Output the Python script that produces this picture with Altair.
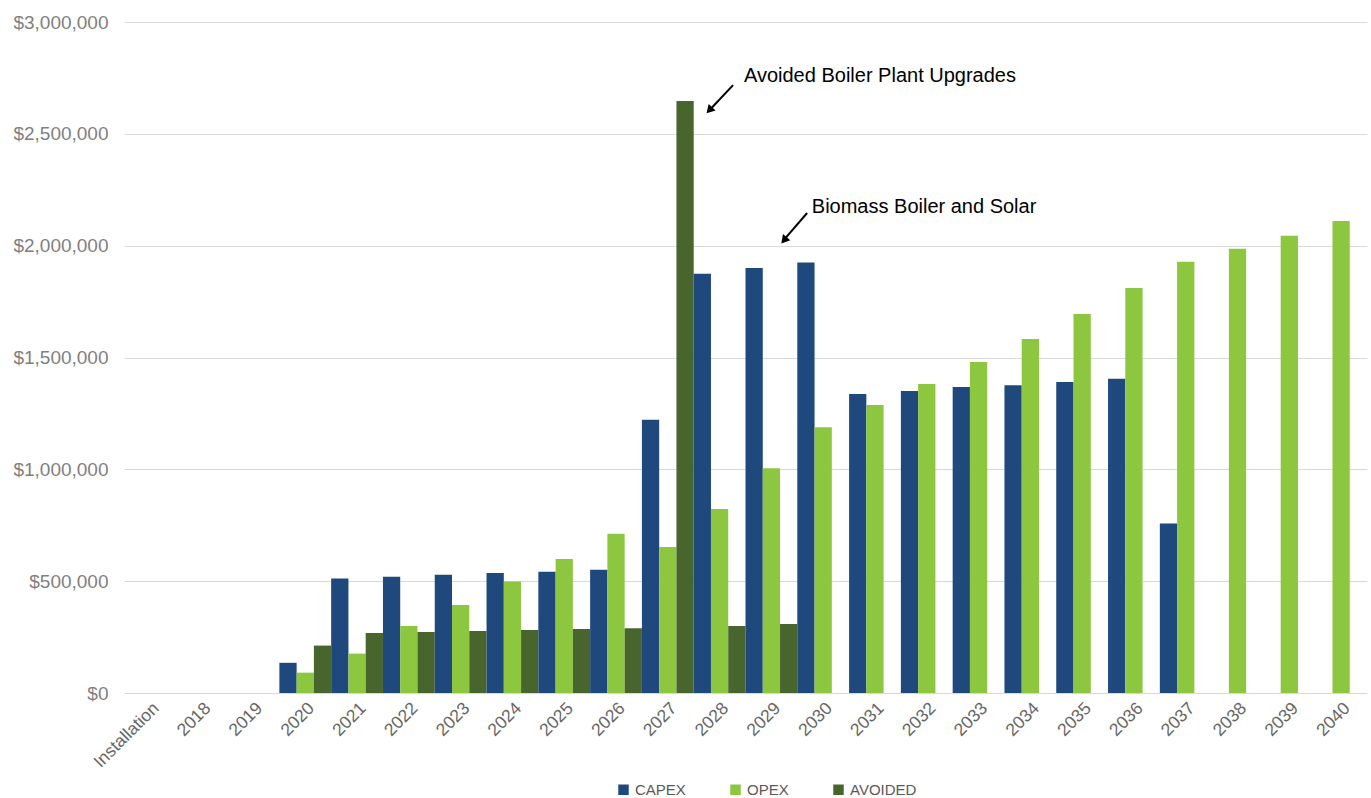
import altair as alt
import pandas as pd

categories = ["Installation"] + [str(y) for y in range(2018, 2041)]
series = ["CAPEX", "OPEX", "AVOIDED"]
colors = ["#1F497D", "#8DC63F", "#48652E"]

capex = [0, 0, 0, 135000, 512000, 520000, 529000, 537000, 542000, 551000, 1222000,
         1875000, 1900000, 1925000, 1337000, 1350000, 1368000, 1376000, 1390000,
         1405000, 758000, 0, 0, 0]
opex = [0, 0, 0, 91000, 176000, 300000, 394000, 498000, 599000, 712000, 653000,
        823000, 1005000, 1188000, 1288000, 1381000, 1480000, 1583000, 1695000,
        1811000, 1928000, 1986000, 2044000, 2110000]
avoided = [0, 0, 0, 212000, 268000, 273000, 277000, 282000, 286000, 290000, 2647000,
           300000, 308000, 0, 0, 0, 0, 0, 0, 0, 0, 0, 0, 0]

y_ticks = [0, 500000, 1000000, 1500000, 2000000, 2500000, 3000000]

# annotations (x in category-index units, y in dollars)
ann_text = ["Avoided Boiler Plant Upgrades", "Biomass Boiler and Solar"]
ann_x = [11.97, 13.28]
ann_y = [2732000, 2146000]
arrow_x1 = [11.76, 13.19]
arrow_y1 = [2718000, 2146000]
arrow_x2 = [11.28, 12.72]
arrow_y2 = [2600000, 2020000]
head_x = [11.32, 12.76]
head_y = [2610000, 2029000]
head_angle = [223, 220]

rows = []
for i, c in enumerate(categories):
    for s, vals in zip(series, [capex, opex, avoided]):
        rows.append({"cat": c, "series": s, "value": vals[i]})
df = pd.DataFrame(rows)

ann_df = pd.DataFrame({"text": ann_text, "x": ann_x, "y": ann_y})
arr_df = pd.DataFrame({"x1": arrow_x1, "y1": arrow_y1, "x2": arrow_x2, "y2": arrow_y2,
                       "hx": head_x, "hy": head_y, "ang": head_angle})

font = "Liberation Sans"
yscale = alt.Scale(domain=[0, 3000000], nice=False)
yaxis = alt.Axis(values=y_ticks, format="$,.0f", labelFont=font,
                 labelFontSize=19, labelColor="#7F7F7F", ticks=False,
                 domain=False, gridColor="#D9D9D9", labelPadding=16, title=None)

bars = alt.Chart(df).mark_bar().encode(
    x=alt.X("cat:N", sort=categories, title=None,
            scale=alt.Scale(paddingInner=0, paddingOuter=0),
            axis=alt.Axis(labelAngle=-45, labelFont=font, labelFontSize=17.5,
                          labelColor="#666666", ticks=False, domain=False,
                          labelPadding=6, grid=False)),
    xOffset=alt.XOffset("series:N", sort=series,
                        scale=alt.Scale(paddingInner=0, paddingOuter=0)),
    y=alt.Y("value:Q", scale=yscale, title=None, axis=yaxis),
    color=alt.Color("series:N", sort=series,
                    scale=alt.Scale(domain=series, range=colors),
                    legend=alt.Legend(title=None, orient="none", direction="horizontal",
                                      legendX=492, legendY=760, labelFont=font,
                                      labelFontSize=15, labelColor="#595959",
                                      symbolType="square", symbolSize=110,
                                      symbolStrokeWidth=0, columnPadding=42,
                                      labelOffset=4, padding=0)),
)

xq = alt.Scale(domain=[0, 24], nice=False, zero=False)

texts = alt.Chart(ann_df).mark_text(align="left", baseline="alphabetic", font=font,
                                    fontSize=20, color="#000000").encode(
    x=alt.X("x:Q", scale=xq, axis=None),
    y=alt.Y("y:Q", scale=yscale, title=None, axis=yaxis),
    text="text:N",
)

lines = alt.Chart(arr_df).mark_rule(color="#000000", strokeWidth=2).encode(
    x=alt.X("x1:Q", scale=xq, axis=None),
    x2="x2:Q",
    y=alt.Y("y1:Q", scale=yscale, title=None, axis=yaxis),
    y2="y2:Q",
)

heads = alt.Chart(arr_df).mark_point(shape="triangle", filled=True, color="#000000",
                                     size=90, opacity=1).encode(
    x=alt.X("hx:Q", scale=xq, axis=None),
    y=alt.Y("hy:Q", scale=yscale, title=None, axis=yaxis),
    angle=alt.Angle("ang:Q", scale=None),
)

chart = alt.layer(bars, lines, heads, texts).resolve_scale(x="independent").properties(
    width=1243, height=671,
    background="#FFFFFF",
    autosize=alt.AutoSizeParams(type="none"),
    padding={"left": 124, "top": 22, "right": 4, "bottom": 105},
).configure_view(strokeWidth=0, stroke="transparent").configure_axis(
    domain=False
)

chart.save("out.html", embed_options={"renderer": "svg", "actions": False})
